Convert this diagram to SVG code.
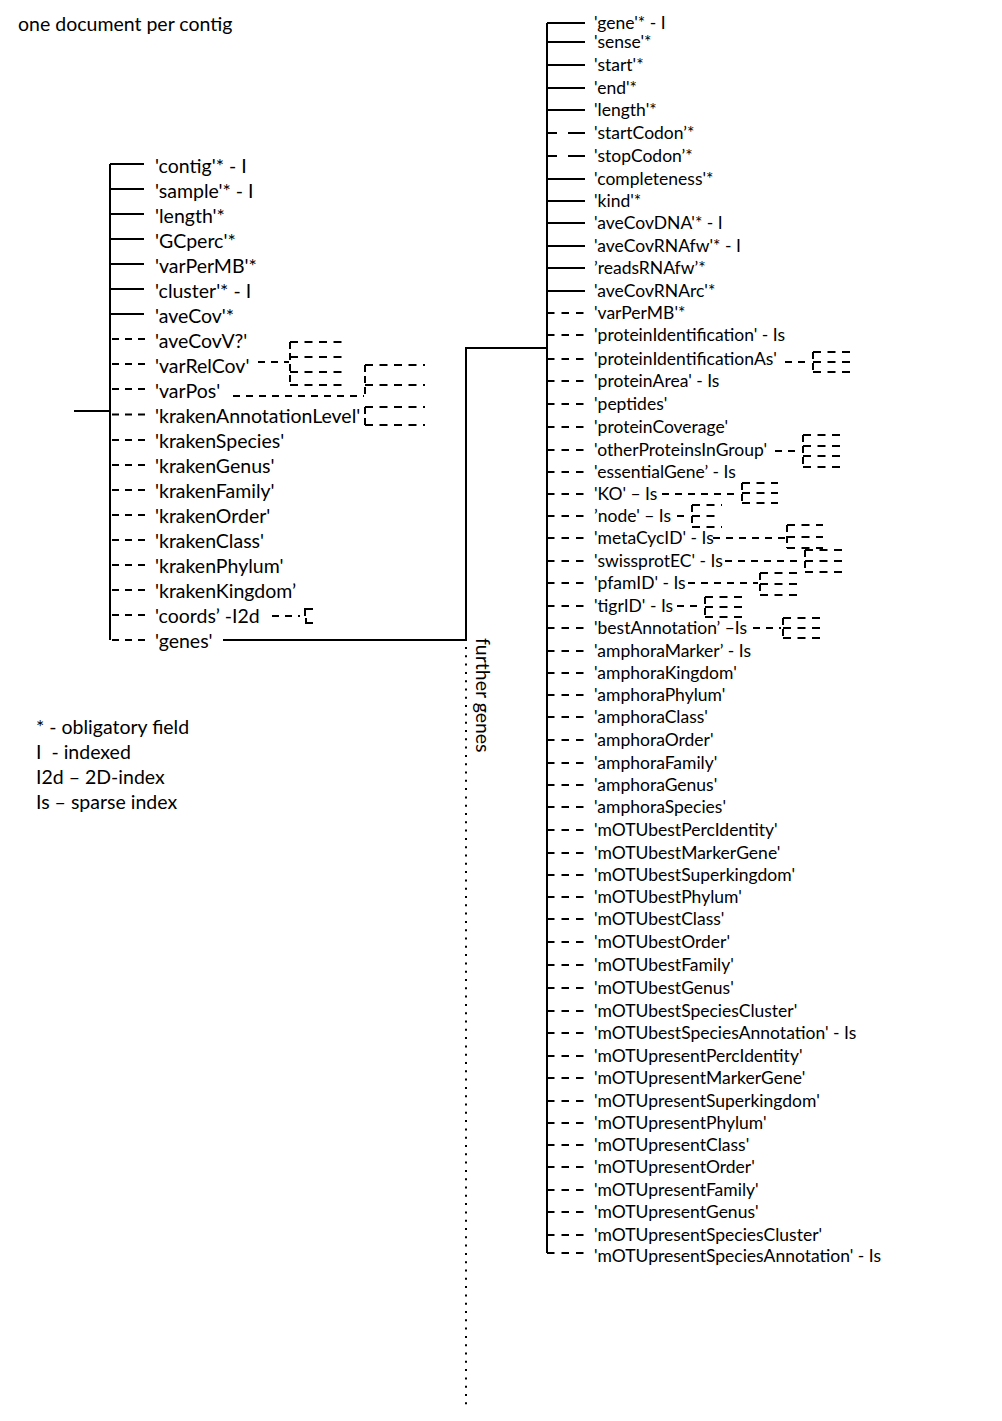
<svg xmlns="http://www.w3.org/2000/svg" width="1002" height="1421" viewBox="0 0 1002 1421">
<style>
.ln{stroke:#000;stroke-width:2;fill:none}
.dl{stroke:#000;stroke-width:2;fill:none;stroke-dasharray:7 6}
.dr{stroke:#000;stroke-width:2;fill:none;stroke-dasharray:7.5 7}
.db{stroke:#000;stroke-width:2;fill:none;stroke-dasharray:8 6.5}
.dv{stroke:#000;stroke-width:2;fill:none;stroke-dasharray:7 4}
.dot{stroke:#000;stroke-width:2;fill:none;stroke-dasharray:2 6.3}
text{font-family:Lato,"Open Sans","Liberation Sans",sans-serif;fill:#000}
.tl{font-size:19.5px}
.tr{font-size:17.5px}
.tt{font-size:19.5px}
</style>
<rect width="1002" height="1421" fill="#fff"/>
<text class="tt" x="18" y="31">one document per contig</text>
<g id="legend">
<text class="tt" x="36" y="734">* - obligatory field</text>
<text class="tt" x="36" y="759">I&#160; - indexed</text>
<text class="tt" x="36" y="784">I2d – 2D-index</text>
<text class="tt" x="36" y="809">Is – sparse index</text>
</g>
<g id="connectors">
<path class="ln" d="M74,411 H110 M110,164 V640"/>
<path class="ln" d="M110,164 H144 M110,189 H144 M110,214 H144 M110,239 H144 M110,264 H144 M110,289 H144 M110,314 H144"/>
<path class="dl" d="M112,339 H146 M112,364 H146 M112,389 H146 M112,414.5 H146 M112,440 H146 M112,465 H146 M112,490 H146 M112,515 H146 M112,540 H146 M112,565 H146 M112,590 H146 M112,615 H146 M112,640 H146"/>
<path class="ln" d="M223,640 H466 V348 H547 M547,23 V1253"/>
<path class="dot" d="M466,647 V1406"/>
<path class="ln" d="M547,23 H585 M547,42 H585 M547,65 H585 M547,88 H585 M547,110 H585 M547,179 H585 M547,201 H585 M547,223 H585 M547,246 H585 M547,268 H585 M547,291 H585"/>
<path class="ln" d="M547,133 H557 M568,133 H585 M547,156 H557 M568,156 H585"/>
<path class="dr" d="M547,313 H585 M547,335 H585 M547,359 H585 M547,381 H585 M547,404 H585 M547,427 H585 M547,450 H585 M547,472 H585 M547,494 H585 M547,516 H585 M547,538 H585 M547,561 H585 M547,583 H585 M547,606 H585 M547,628 H585 M547,651 H585 M547,673 H585 M547,695 H585 M547,717 H585 M547,740 H585 M547,763 H585 M547,785 H585 M547,807 H585 M547,830 H585 M547,853 H585 M547,875 H585 M547,897 H585 M547,919 H585 M547,942 H585 M547,965 H585 M547,988 H585 M547,1011 H585 M547,1033 H585 M547,1056 H585 M547,1078 H585 M547,1101 H585 M547,1123 H585 M547,1145 H585 M547,1167 H585 M547,1190 H585 M547,1212 H585 M547,1235 H585 M547,1253 H585"/>
</g>
<g id="sub-left">
<path class="dl" d="M258,362 H289"/>
<path class="dv" d="M290,342 V385"/>
<path class="db" d="M290,342 H342 M290,357 H342 M290,372 H342 M290,385 H342"/>
<path class="dl" d="M233,396 H364"/>
<path class="dv" d="M365,365 V396"/>
<path class="db" d="M365,365 H425 M365,385 H425"/>
<path class="dv" d="M365,407 V425"/>
<path class="db" d="M365,407 H425 M365,425 H425"/>
<path class="dl" d="M272,616 H300"/>
<path class="ln" d="M313,609 H305 V616 M306,618 V623 H313"/>
</g>
<g id="sub-right">
<path class="dl" d="M785,362 H811"/>
<path class="dv" d="M813,352 V372"/>
<path class="db" d="M813,352 H850 M813,362 H850 M813,372 H850"/>
<path class="dl" d="M775,451 H801"/>
<path class="dv" d="M803,435 V467"/>
<path class="db" d="M803,435 H841 M803,446 H841 M803,456 H841 M803,467 H841"/>
<path class="dl" d="M662,494 H740"/>
<path class="dv" d="M742,483 V503"/>
<path class="db" d="M742,483 H778 M742,493 H778 M742,503 H778"/>
<path class="dl" d="M677,516 H690"/>
<path class="dv" d="M692,505 V527"/>
<path class="db" d="M692,505 H722 M692,516 H718 M692,527 H722"/>
<path class="dl" d="M713,538 H785"/>
<path class="dv" d="M787,525 V548"/>
<path class="db" d="M787,525 H823 M787,537 H823 M787,548 H823"/>
<path class="dl" d="M725,561 H803"/>
<path class="dv" d="M805,550 V572"/>
<path class="db" d="M805,550 H842 M805,561 H842 M805,572 H842"/>
<path class="dl" d="M688,583 H758"/>
<path class="dv" d="M760,573 V595"/>
<path class="db" d="M760,573 H798 M760,584 H798 M760,595 H798"/>
<path class="dl" d="M677,606 H703"/>
<path class="dv" d="M705,597 V617"/>
<path class="db" d="M705,597 H743 M705,607 H743 M705,617 H743"/>
<path class="dl" d="M753,628 H781"/>
<path class="dv" d="M783,618 V638"/>
<path class="db" d="M783,618 H820 M783,628 H820 M783,638 H820"/>
</g>
<text class="tt" transform="translate(476,638) rotate(90)">further genes</text>
<g id="contig-fields" class="tl">
<text x="155" y="172.5">'contig'* - I</text>
<text x="155" y="197.5">'sample'* - I</text>
<text x="155" y="222.5">'length'*</text>
<text x="155" y="247.5">'GCperc'*</text>
<text x="155" y="272.5">'varPerMB'*</text>
<text x="155" y="297.5">'cluster'* - I</text>
<text x="155" y="322.5">'aveCov'*</text>
<text x="155" y="347.5">'aveCovV?'</text>
<text x="155" y="372.5">'varRelCov'</text>
<text x="155" y="397.5">'varPos'</text>
<text x="155" y="423">'krakenAnnotationLevel'</text>
<text x="155" y="448">'krakenSpecies'</text>
<text x="155" y="473">'krakenGenus'</text>
<text x="155" y="498">'krakenFamily'</text>
<text x="155" y="523">'krakenOrder'</text>
<text x="155" y="548">'krakenClass'</text>
<text x="155" y="573">'krakenPhylum'</text>
<text x="155" y="598">'krakenKingdom’</text>
<text x="155" y="623">'coords’ -I2d</text>
<text x="155" y="648">'genes'</text>
</g>
<g id="gene-fields" class="tr">
<text x="594" y="29">'gene'* - I</text>
<text x="594" y="48">'sense'*</text>
<text x="594" y="71">'start'*</text>
<text x="594" y="94">'end'*</text>
<text x="594" y="116">'length'*</text>
<text x="594" y="139">'startCodon’*</text>
<text x="594" y="162">'stopCodon’*</text>
<text x="594" y="185">'completeness'*</text>
<text x="594" y="207">'kind'*</text>
<text x="594" y="229">'aveCovDNA'* - I</text>
<text x="594" y="252">'aveCovRNAfw'* - I</text>
<text x="594" y="274">’readsRNAfw’*</text>
<text x="594" y="297">'aveCovRNArc'*</text>
<text x="594" y="319">'varPerMB'*</text>
<text x="594" y="341">'proteinIdentification' - Is</text>
<text x="594" y="365">'proteinIdentificationAs'</text>
<text x="594" y="387">'proteinArea' - Is</text>
<text x="594" y="410">'peptides'</text>
<text x="594" y="433">'proteinCoverage'</text>
<text x="594" y="456">'otherProteinsInGroup'</text>
<text x="594" y="478">'essentialGene’ - Is</text>
<text x="594" y="500">'KO' – Is</text>
<text x="594" y="522">’node' – Is</text>
<text x="594" y="544">'metaCycID' - Is</text>
<text x="594" y="567">'swissprotEC' - Is</text>
<text x="594" y="589">'pfamID' - Is</text>
<text x="594" y="612">'tigrID' - Is</text>
<text x="594" y="634">'bestAnnotation’ –Is</text>
<text x="594" y="657">'amphoraMarker’ - Is</text>
<text x="594" y="679">'amphoraKingdom'</text>
<text x="594" y="701">'amphoraPhylum'</text>
<text x="594" y="723">'amphoraClass'</text>
<text x="594" y="746">'amphoraOrder'</text>
<text x="594" y="769">'amphoraFamily'</text>
<text x="594" y="791">'amphoraGenus'</text>
<text x="594" y="813">'amphoraSpecies'</text>
<text x="594" y="836">'mOTUbestPercIdentity'</text>
<text x="594" y="859">'mOTUbestMarkerGene'</text>
<text x="594" y="881">'mOTUbestSuperkingdom'</text>
<text x="594" y="903">'mOTUbestPhylum'</text>
<text x="594" y="925">'mOTUbestClass'</text>
<text x="594" y="948">'mOTUbestOrder'</text>
<text x="594" y="971">'mOTUbestFamily'</text>
<text x="594" y="994">'mOTUbestGenus'</text>
<text x="594" y="1017">'mOTUbestSpeciesCluster'</text>
<text x="594" y="1039">'mOTUbestSpeciesAnnotation' - Is</text>
<text x="594" y="1062">'mOTUpresentPercIdentity'</text>
<text x="594" y="1084">'mOTUpresentMarkerGene'</text>
<text x="594" y="1107">'mOTUpresentSuperkingdom'</text>
<text x="594" y="1129">'mOTUpresentPhylum'</text>
<text x="594" y="1151">'mOTUpresentClass'</text>
<text x="594" y="1173">'mOTUpresentOrder'</text>
<text x="594" y="1196">'mOTUpresentFamily'</text>
<text x="594" y="1218">'mOTUpresentGenus'</text>
<text x="594" y="1241">'mOTUpresentSpeciesCluster'</text>
<text x="594" y="1262">'mOTUpresentSpeciesAnnotation' - Is</text>
</g>
</svg>
